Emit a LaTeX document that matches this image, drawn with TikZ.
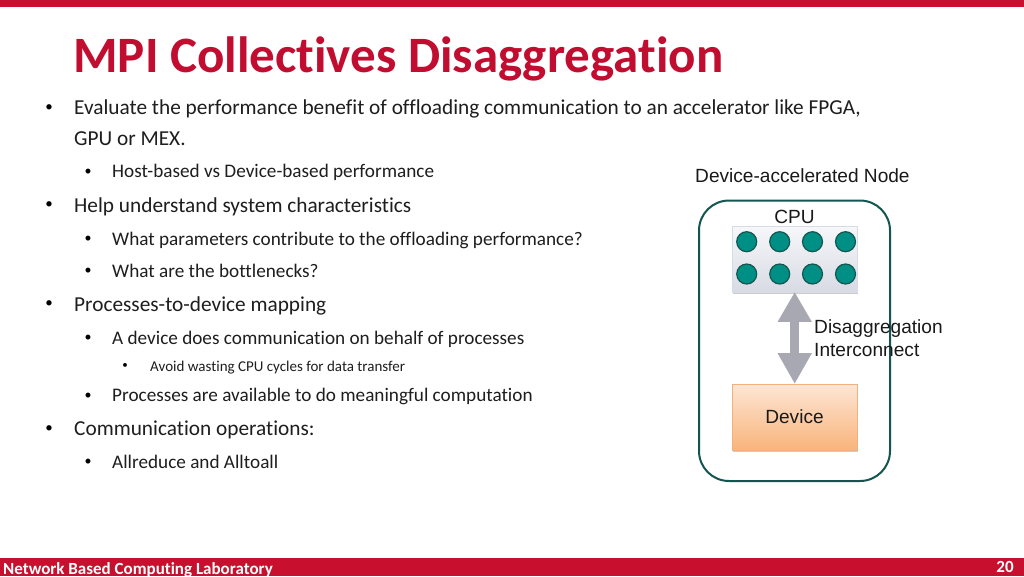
\documentclass[tikz,border=0pt]{standalone}
\usepackage{fontspec}
\setmainfont[RawFeature={-liga;-clig}]{Carlito}
\newfontfamily\arialf{Liberation Sans}
\usetikzlibrary{arrows.meta,shadows}
\definecolor{nbcred}{HTML}{C8102E}
\definecolor{titlered}{HTML}{C00D30}
\definecolor{tealfill}{HTML}{008F85}
\definecolor{tealline}{HTML}{14564F}
\definecolor{bodytxt}{HTML}{1E1E1E}
\definecolor{cputop}{HTML}{F6F7FA}
\definecolor{cpubot}{HTML}{D8DBE4}
\definecolor{devtop}{HTML}{FDE6D4}
\definecolor{devbot}{HTML}{F9B47C}
\definecolor{devline}{HTML}{F0B080}
\definecolor{arrowgray}{HTML}{A8A8B2}
\tikzset{
 x=1pt,y=-1pt,
 lineA/.style={anchor=base west,inner sep=0,font=\fontsize{21.3}{25}\selectfont,text=bodytxt},
 lineB/.style={anchor=base west,inner sep=0,font=\fontsize{19.2}{23}\selectfont,text=bodytxt},
 lineC/.style={anchor=base west,inner sep=0,font=\fontsize{15}{18}\selectfont,text=bodytxt},
 bul/.style={anchor=center,inner sep=0,text=black},
 diag/.style={inner sep=0,font=\arialf\fontsize{19.1}{23}\selectfont,text=black!90},
 core/.style={circle,draw=tealline,line width=1.2pt,fill=tealfill,minimum size=20pt,inner sep=0},
 softshadow/.style={drop shadow={shadow xshift=0.5pt,shadow yshift=-2.5pt,fill=black,opacity=0.2}},
 boxnode/.style={anchor=north west,inner sep=0,minimum width=125pt,minimum height=65.5pt,softshadow},
}
\begin{document}
\begin{tikzpicture}
\useasboundingbox (0,0) rectangle (1024,576);
\fill[white] (0,0) rectangle (1024,576);
\fill[nbcred] (0,0) rectangle (1024,6.5);
\fill[nbcred] (0,558) rectangle (1024,576);
\node[anchor=base west,inner sep=0,font=\bfseries\fontsize{51}{58}\selectfont,text=titlered] (title) at (73.2,72) {MPI Collectives Disaggregation};
\node[lineA] (t1) at (74,114.5) {Evaluate the performance benefit of offloading communication to an accelerator like FPGA,};
\node[lineA] (t1b) at (74,145.5) {GPU or MEX.};
\node[lineB] (t2) at (112,177.5) {Host-based vs Device-based performance};
\node[lineA] (t3) at (74,212.2) {Help understand system characteristics};
\node[lineB] (t4) at (112,245) {What parameters contribute to the offloading performance?};
\node[lineB] (t5) at (112,277) {What are the bottlenecks?};
\node[lineA] (t6) at (74,311) {Processes-to-device mapping};
\node[lineB] (t7) at (112,344) {A device does communication on behalf of processes};
\node[lineC] (t8) at (150,371) {Avoid wasting CPU cycles for data transfer};
\node[lineB] (t9) at (112,401.7) {Processes are available to do meaningful computation};
\node[lineA] (t10) at (74,435.2) {Communication operations:};
\node[lineB] (t11) at (112,468) {Allreduce and Alltoall};
\foreach \n/\y in {a/108,c/205,d/304,e/429}{\node[bul,font=\fontsize{15}{17}\selectfont] (b\n) at (49,\y) {•};}
\foreach \n/\y in {f/172,g/239,h/271,i/338,j/396,k/462}{\node[bul,font=\fontsize{14}{16}\selectfont] (b\n) at (88,\y) {•};}
\node[bul,font=\fontsize{11}{13}\selectfont] (bl) at (125,366) {•};
% diagram
\node[diag,anchor=base west] (head) at (695,182) {Device-accelerated Node};
\draw[tealline,line width=2pt,rounded corners=30pt] (699,200.5) rectangle (890,481);
\node[boxnode,top color=cputop,bottom color=cpubot,draw=cpubot] (cpu) at (732,226) {};
\node[boxnode,top color=devtop,bottom color=devbot,draw=devline] (device) at (732,384) {};
\node[diag,anchor=base] (cpulabel) at (794.5,223) {CPU};
\node[diag,anchor=base] (devlabel) at (794.5,423) {Device};
\foreach \i/\x in {1/746.7,2/779.7,3/812.5,4/845.5}{
 \node[core] (ca\i) at (\x,241.7) {};
 \node[core] (cb\i) at (\x,274) {};
}
\draw[arrowgray,line width=9.5pt,{Triangle[length=30pt,width=32pt]}-{Triangle[length=31pt,width=32pt]}] (cpu.south) -- (device.north);
\node[diag,anchor=base west,align=left] (dis) at (814,333) {Disaggregation};
\node[diag,anchor=base west,align=left] (inter) at (814,356) {Interconnect};
% footer
\node[anchor=base west,inner sep=0,font=\bfseries\fontsize{17}{20}\selectfont,text=white] (foot) at (3,574.7) {Network Based Computing Laboratory};
\node[anchor=base,inner sep=0,font=\bfseries\fontsize{17}{20}\selectfont,text=white] (page) at (1005,572) {20};
\end{tikzpicture}
\end{document}
